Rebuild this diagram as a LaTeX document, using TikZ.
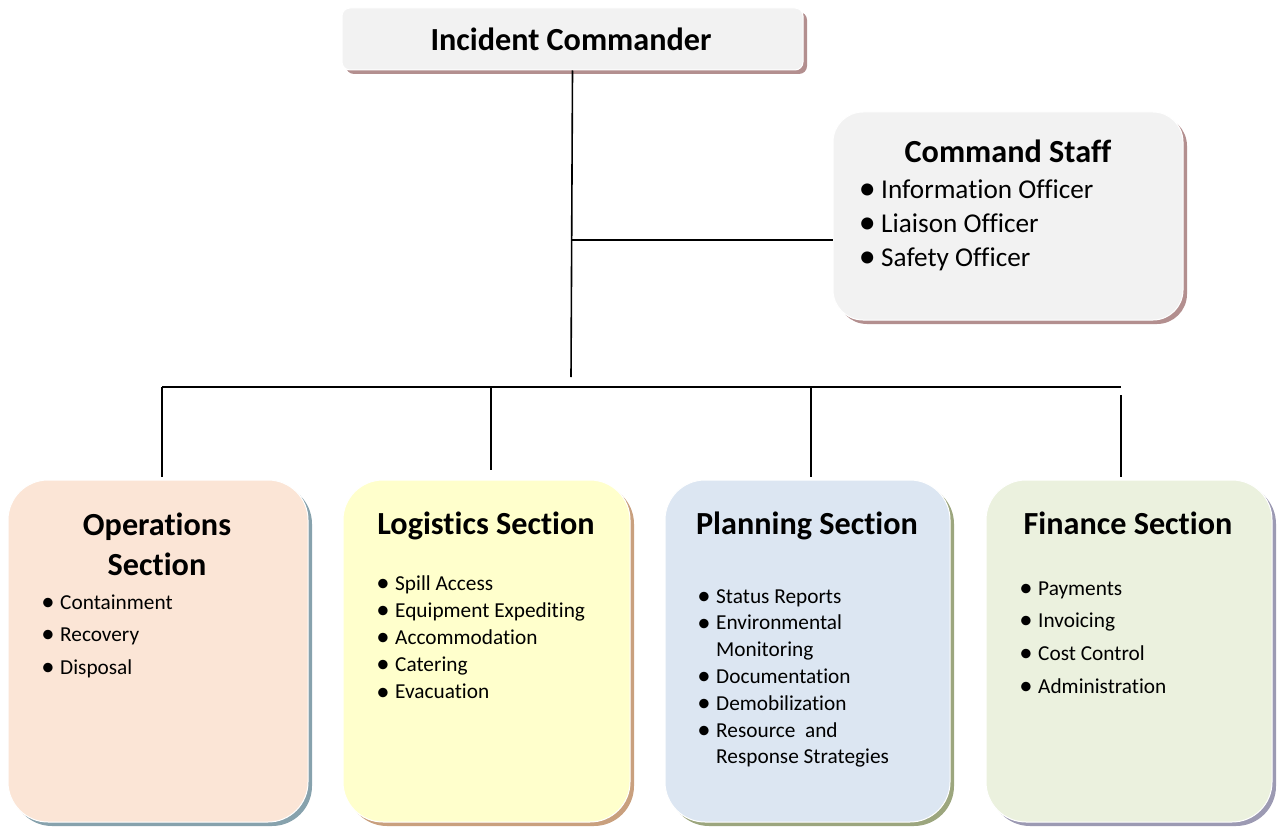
\documentclass[tikz,border=0pt]{standalone}
\usepackage{fontspec}
\setmainfont[Ligatures={NoCommon}]{Carlito}
\usetikzlibrary{positioning}
\usetikzlibrary{shadows}
\definecolor{greyFill}{HTML}{F2F2F2}
\definecolor{greyShadow}{HTML}{B38F8F}
\definecolor{opsFill}{HTML}{FBE5D6}
\definecolor{opsShadow}{HTML}{87A2AD}
\definecolor{logFill}{HTML}{FFFFCC}
\definecolor{logShadow}{HTML}{C9A07E}
\definecolor{planFill}{HTML}{DCE6F2}
\definecolor{planShadow}{HTML}{9CA67E}
\definecolor{finFill}{HTML}{EBF1DE}
\definecolor{finShadow}{HTML}{9C9AB3}
\newcommand{\bl}{\llap{\raisebox{-0.06em}{\scalebox{1.25}{\textbullet}}\hspace{5.5pt}}}

\begin{document}
\begin{tikzpicture}[x=1pt,y=-1pt]

          \tikzstyle{shadowed} = [draw=white, line width=1pt, drop shadow={shadow xshift=4pt, shadow yshift=-4pt, opacity=1, fill=#1}];
          \tikzstyle{icBox} = [rounded corners=8pt, fill=greyFill, shadowed=greyShadow, minimum width=461pt, minimum height=62pt];
          \tikzstyle{staffBox} = [rounded corners=30pt, fill=greyFill, shadowed=greyShadow, minimum width=350pt, minimum height=208pt];
          \tikzstyle{secBox} = [rounded corners=40pt, minimum height=342pt];
          \tikzstyle{title} = [anchor=base, inner sep=0pt, font=\fontsize{32.2}{38}\selectfont\bfseries];
          \tikzstyle{staffItem} = [anchor=base west, inner sep=0pt, font=\fontsize{27.2}{30}\selectfont];
          \tikzstyle{item} = [anchor=base west, inner sep=0pt, font=\fontsize{21.3}{25}\selectfont];
          \tikzstyle{link} = [line width=1.6pt, black];

          \useasboundingbox (0,0) rectangle (1284,829);

          % boxes
          \node[icBox] (ic) at (572.5,39) {};
          \node[staffBox] (staff) at (1008,216) {};
          \node[secBox, fill=opsFill, shadowed=opsShadow, minimum width=300pt] (ops) at (158,651) {};
          \node[secBox, fill=logFill, shadowed=logShadow, minimum width=287pt] (log) at (486.5,651) {};
          \node[secBox, fill=planFill, shadowed=planShadow, minimum width=285pt] (plan) at (807.5,651) {};
          \node[secBox, fill=finFill, shadowed=finShadow, minimum width=286pt] (fin) at (1129,651) {};

          % titles
          \node[title] (icTitle) at (571,51) {Incident Commander};
          \node[title] (staffTitle) at (1008,163) {Command Staff};
          \node[title] (opsTitle) at (157,535) {Operations};
          \node[title] (opsTitleB) at (157,575) {Section};
          \node[title] (logTitle) at (486,534) {Logistics Section};
          \node[title] (planTitle) at (807,534) {Planning Section};
          \node[title] (finTitle) at (1128,534) {Finance Section};

          % lists
          \foreach \t [count=\i] in {Information Officer, Liaison Officer, Safety Officer}
            \node[staffItem] (staff-\i) at (881,{198+34*(\i-1)}) {\bl\t};
          \foreach \t [count=\i] in {Containment, Recovery, Disposal}
            \node[item] (ops-\i) at (60,{609+32.5*(\i-1)}) {\bl\t};
          \foreach \t [count=\i] in {Spill Access, Equipment Expediting, Accommodation, Catering, Evacuation}
            \node[item] (log-\i) at (395,{590+27.2*(\i-1)}) {\bl\t};
          \foreach \t [count=\i] in {\bl Status Reports, \bl Environmental, Monitoring, \bl Documentation, \bl Demobilization, \bl Resource~ and, Response Strategies}
            \node[item] (plan-\i) at (716,{603+26.8*(\i-1)}) {\t};
          \foreach \t [count=\i] in {Payments, Invoicing, Cost Control, Administration}
            \node[item] (fin-\i) at (1038,{595+32.7*(\i-1)}) {\bl\t};

          % connectors
          \coordinate (icEnd) at (571,377);
          \coordinate (staffJoin) at (571,240);
          \coordinate (busL) at (162,387);
          \coordinate (busR) at (1121,387);
          \coordinate (logTop) at (491,387);
          \coordinate (planTop) at (811,387);
          \coordinate (finTop) at (1121,395);

          \draw[link] (ic.south) -- (icEnd);
          \draw[link] (staffJoin) -- (staff.west |- staffJoin);
          \draw[link] (busL) -- (busR);
          \draw[link] (busL) -- (busL |- {(0,477)});
          \draw[link] (logTop) -- (logTop |- {(0,470)});
          \draw[link] (planTop) -- (planTop |- {(0,477)});
          \draw[link] (finTop) -- (finTop |- {(0,477)});
        \end{tikzpicture}
\end{document}
